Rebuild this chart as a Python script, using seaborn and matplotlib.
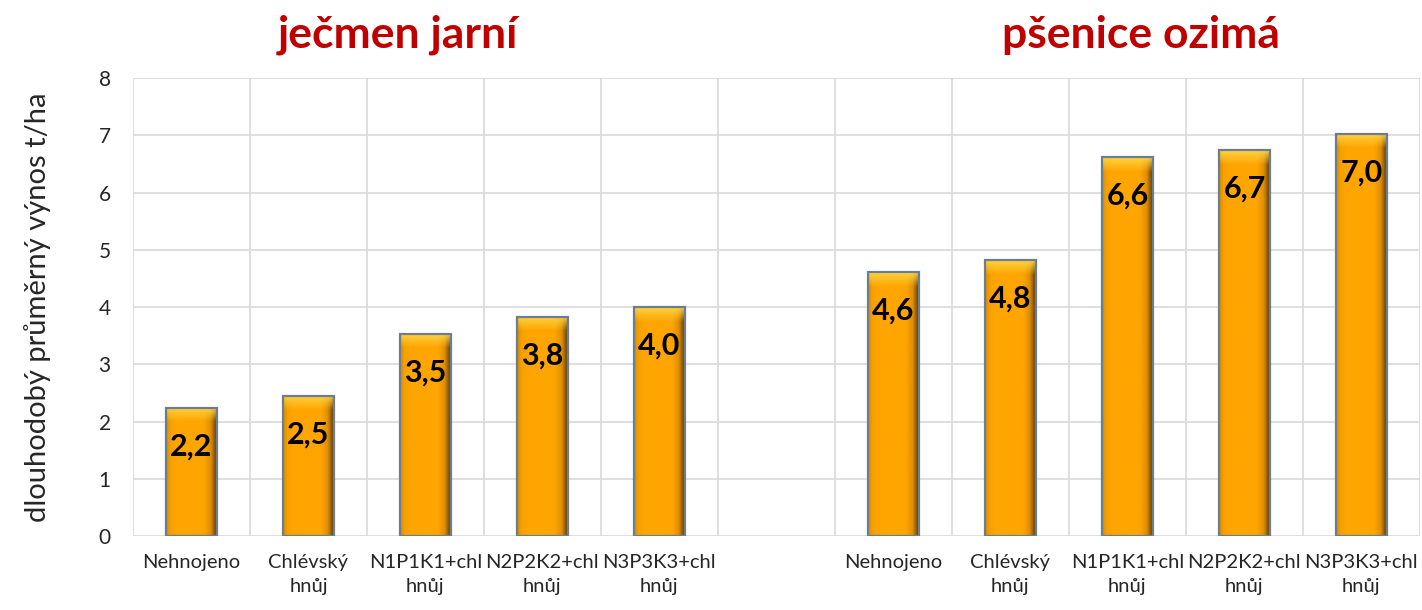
import numpy as np
import pandas as pd
import matplotlib
matplotlib.use("Agg")
import matplotlib.pyplot as plt
from matplotlib.colors import to_rgb
import seaborn as sns

# data
treatments = ["Nehnojeno", "Chlévský\nhnůj", "N1P1K1+chl\nhnůj", "N2P2K2+chl\nhnůj", "N3P3K3+chl\nhnůj"]
crops = ["ječmen jarní", "pšenice ozimá"]
barley = [2.24, 2.45, 3.53, 3.83, 4.00]
wheat = [4.61, 4.82, 6.62, 6.74, 7.03]

# one empty slot between the two crops
slot_ids = [f"b{i}" for i in range(5)] + ["gap"] + [f"w{i}" for i in range(5)]
slot_labels = treatments + [""] + treatments
slot_values = barley + [np.nan] + wheat
df = pd.DataFrame({"slot": slot_ids, "value": slot_values})

sns.set_style("whitegrid")
plt.rcParams["font.family"] = ["Lato", "DejaVu Sans"]

fig = plt.figure(figsize=(14.22, 6.10), dpi=100)
ax = fig.add_axes([0.0935, 0.1213, 0.905, 0.7507])

sns.barplot(data=df, x="slot", y="value", order=slot_ids, color="#FFA500",
            width=0.43, edgecolor="#6b7d8e", linewidth=1.6, ax=ax, zorder=3)

# bevelled orange look, drawn as an image clipped to each bar
stops = np.array([0, 0.08, 0.2, 0.75, 0.88, 1.0])
cols = np.array([to_rgb(c) for c in ["#d98a00", "#f5a000", "#ffa500", "#ffa500", "#e08e00", "#5a3a10"]])
xs = np.linspace(0, 1, 120)
base = np.stack([np.interp(xs, stops, cols[:, k]) for k in range(3)], axis=-1)
yellow = np.array(to_rgb("#ffd84a"))

bars = [p for p in ax.patches if np.isfinite(p.get_height()) and p.get_height() > 0]
for p in bars:
    x0, w, h = p.get_x(), p.get_width(), p.get_height()
    ys = np.linspace(h, 0, 300)
    wt = np.clip(1 - (h - ys) / 0.25, 0, 1)[:, None, None] * 0.9
    img = base[None, :, :] * (1 - wt) + yellow[None, None, :] * wt
    im = ax.imshow(img, aspect="auto", extent=[x0, x0 + w, 0, h],
                   zorder=3.5, interpolation="bilinear")
    im.set_clip_path(p)
    p.set_zorder(4)
    p.set_facecolor("none")

for c in ax.containers:
    ax.bar_label(c, labels=[("" if not np.isfinite(v) else f"{v:.1f}".replace(".", ",")) for v in c.datavalues],
                 padding=-38, fontsize=22, fontweight="bold", color="black", zorder=5)

ax.set_ylim(0, 8)
ax.set_yticks(range(0, 9))
ax.set_xlim(-0.5, len(slot_ids) - 0.5)
ax.set_xticks(range(len(slot_ids)))
ax.set_xticklabels(slot_labels, fontsize=14.5, linespacing=1.5)
ax.set_xticks(np.arange(-0.5, len(slot_ids), 1), minor=True)
ax.tick_params(axis="y", labelsize=15, length=0, pad=16)
ax.tick_params(axis="x", which="both", length=0, pad=13)
ax.grid(False, axis="x", which="major")
ax.grid(True, axis="x", which="minor", color="#d9d9d9", linewidth=1.2)
ax.grid(True, axis="y", color="#d9d9d9", linewidth=1.2)
ax.set_axisbelow(True)
for s in ax.spines.values():
    s.set_visible(False)

ax.set_xlabel("")
ax.set_ylabel("dlouhodobý průměrný výnos t/ha", fontsize=21, labelpad=34)

# crop titles above each group
ax.text(1.76, 1.05, crops[0], transform=ax.get_xaxis_transform(), ha="center", va="bottom",
        fontsize=32, fontweight="bold", color="#C00000")
ax.text(8.12, 1.05, crops[1], transform=ax.get_xaxis_transform(), ha="center", va="bottom",
        fontsize=32, fontweight="bold", color="#C00000")

fig.savefig("out.png", dpi=100)
